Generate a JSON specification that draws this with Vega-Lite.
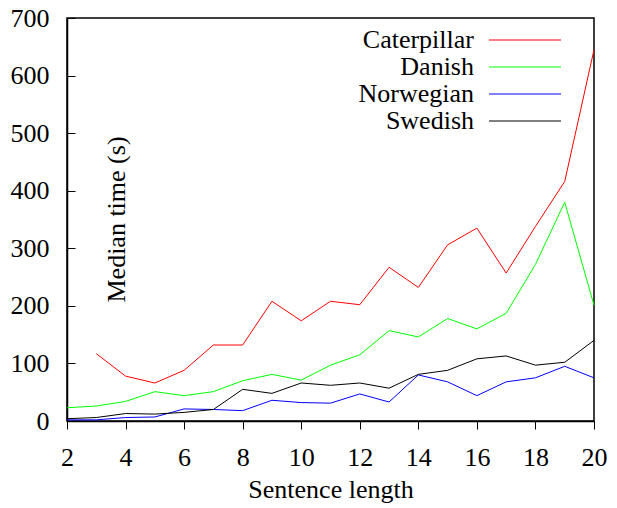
{
  "$schema": "https://vega.github.io/schema/vega-lite/v6.json",
  "autosize": {"type": "none"},
  "padding": {"left": 67, "top": 18, "right": 23, "bottom": 87},
  "width": 527,
  "height": 403,
  "background": "white",
  "config": {
    "font": "Liberation Serif",
    "view": {"stroke": "black", "strokeWidth": 1.5},
    "axis": {"grid": false, "domainColor": "black", "tickColor": "black", "labelColor": "black", "titleColor": "black", "labelFont": "Liberation Serif", "titleFont": "Liberation Serif", "labelFontSize": 26, "titleFontSize": 26, "titleFontWeight": "normal", "domainWidth": 1.5, "tickWidth": 1}
  },
  "data": {"values": [
    {"n": 3, "s": "Caterpillar", "t": 117},
    {"n": 4, "s": "Caterpillar", "t": 78},
    {"n": 5, "s": "Caterpillar", "t": 66},
    {"n": 6, "s": "Caterpillar", "t": 88},
    {"n": 7, "s": "Caterpillar", "t": 132},
    {"n": 8, "s": "Caterpillar", "t": 132},
    {"n": 9, "s": "Caterpillar", "t": 208},
    {"n": 10, "s": "Caterpillar", "t": 174},
    {"n": 11, "s": "Caterpillar", "t": 208},
    {"n": 12, "s": "Caterpillar", "t": 202},
    {"n": 13, "s": "Caterpillar", "t": 267},
    {"n": 14, "s": "Caterpillar", "t": 232},
    {"n": 15, "s": "Caterpillar", "t": 306},
    {"n": 16, "s": "Caterpillar", "t": 335},
    {"n": 17, "s": "Caterpillar", "t": 257},
    {"n": 18, "s": "Caterpillar", "t": 338},
    {"n": 19, "s": "Caterpillar", "t": 416},
    {"n": 20, "s": "Caterpillar", "t": 645},
    {"n": 2, "s": "Danish", "t": 23},
    {"n": 3, "s": "Danish", "t": 26},
    {"n": 4, "s": "Danish", "t": 34},
    {"n": 5, "s": "Danish", "t": 51},
    {"n": 6, "s": "Danish", "t": 44},
    {"n": 7, "s": "Danish", "t": 51},
    {"n": 8, "s": "Danish", "t": 70},
    {"n": 9, "s": "Danish", "t": 81},
    {"n": 10, "s": "Danish", "t": 71},
    {"n": 11, "s": "Danish", "t": 97},
    {"n": 12, "s": "Danish", "t": 115},
    {"n": 13, "s": "Danish", "t": 157},
    {"n": 14, "s": "Danish", "t": 146},
    {"n": 15, "s": "Danish", "t": 178},
    {"n": 16, "s": "Danish", "t": 160},
    {"n": 17, "s": "Danish", "t": 187},
    {"n": 18, "s": "Danish", "t": 272},
    {"n": 19, "s": "Danish", "t": 380},
    {"n": 20, "s": "Danish", "t": 201},
    {"n": 2, "s": "Norwegian", "t": 2},
    {"n": 3, "s": "Norwegian", "t": 2},
    {"n": 4, "s": "Norwegian", "t": 6},
    {"n": 5, "s": "Norwegian", "t": 7},
    {"n": 6, "s": "Norwegian", "t": 21},
    {"n": 7, "s": "Norwegian", "t": 20},
    {"n": 8, "s": "Norwegian", "t": 18},
    {"n": 9, "s": "Norwegian", "t": 36},
    {"n": 10, "s": "Norwegian", "t": 32},
    {"n": 11, "s": "Norwegian", "t": 31},
    {"n": 12, "s": "Norwegian", "t": 47},
    {"n": 13, "s": "Norwegian", "t": 33},
    {"n": 14, "s": "Norwegian", "t": 80},
    {"n": 15, "s": "Norwegian", "t": 68},
    {"n": 16, "s": "Norwegian", "t": 44},
    {"n": 17, "s": "Norwegian", "t": 68},
    {"n": 18, "s": "Norwegian", "t": 75},
    {"n": 19, "s": "Norwegian", "t": 95},
    {"n": 20, "s": "Norwegian", "t": 75},
    {"n": 2, "s": "Swedish", "t": 4},
    {"n": 3, "s": "Swedish", "t": 6},
    {"n": 4, "s": "Swedish", "t": 13},
    {"n": 5, "s": "Swedish", "t": 12},
    {"n": 6, "s": "Swedish", "t": 15},
    {"n": 7, "s": "Swedish", "t": 20},
    {"n": 8, "s": "Swedish", "t": 55},
    {"n": 9, "s": "Swedish", "t": 48},
    {"n": 10, "s": "Swedish", "t": 66},
    {"n": 11, "s": "Swedish", "t": 62},
    {"n": 12, "s": "Swedish", "t": 66},
    {"n": 13, "s": "Swedish", "t": 57},
    {"n": 14, "s": "Swedish", "t": 81},
    {"n": 15, "s": "Swedish", "t": 88},
    {"n": 16, "s": "Swedish", "t": 108},
    {"n": 17, "s": "Swedish", "t": 113},
    {"n": 18, "s": "Swedish", "t": 97},
    {"n": 19, "s": "Swedish", "t": 102},
    {"n": 20, "s": "Swedish", "t": 140}
  ]},
  "mark": {"type": "line", "strokeWidth": 1},
  "encoding": {
    "x": {
      "field": "n", "type": "quantitative",
      "scale": {"domain": [2, 20], "nice": false, "zero": false},
      "axis": {"title": "Sentence length", "values": [2, 4, 6, 8, 10, 12, 14, 16, 18, 20], "tickSize": 8, "labelPadding": 15, "titlePadding": 6, "labelFlush": false}
    },
    "y": {
      "field": "t", "type": "quantitative",
      "scale": {"domain": [0, 700], "nice": false},
      "axis": {"title": "Median time (s)", "values": [0, 100, 200, 300, 400, 500, 600, 700], "tickSize": -8, "labelPadding": 26, "titleX": 49, "titleY": 201, "titleAngle": -90, "titleAlign": "center", "titleBaseline": "middle", "labelFlush": false}
    },
    "color": {
      "field": "s", "type": "nominal",
      "scale": {"domain": ["Caterpillar", "Danish", "Norwegian", "Swedish"], "range": ["#ff0000", "#00ff00", "#0000ff", "#000000"]},
      "legend": {"title": null, "orient": "none", "legendX": 445, "legendY": 9, "padding": 0, "symbolType": "M-9,0H9", "symbolSize": 64, "symbolStrokeWidth": 1, "labelAlign": "right", "labelOffset": -64, "labelFontSize": 26, "labelFont": "Liberation Serif", "labelColor": "black", "rowPadding": 1, "labelLimit": 300}
    }
  }
}
